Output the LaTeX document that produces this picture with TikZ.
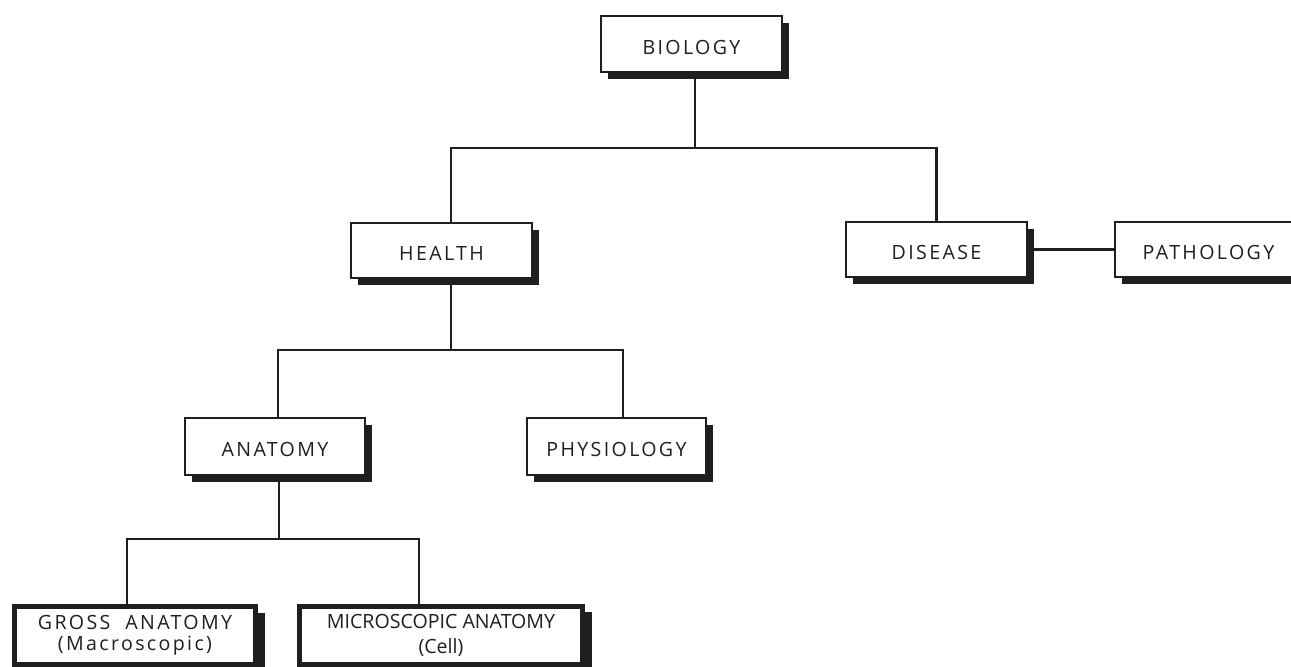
\documentclass[tikz,border=0pt]{standalone}
\usepackage{fontspec}
\setmainfont{Open Sans}
\newfontfamily\boxfont{Open Sans}[LetterSpace=12]
\newfontfamily\plainfont{Open Sans}
\usetikzlibrary{shadows}
\begin{document}
\begin{tikzpicture}[x=0.5pt,y=-0.5pt,
  basebox/.style={draw=black!88, fill=white, inner sep=0pt, text=black!88},
  box/.style={basebox, line width=1pt, font=\boxfont\fontsize{9.8}{11}\selectfont,
    text height=10pt, text depth=0pt,
    drop shadow={shadow xshift=3.5pt, shadow yshift=-3.5pt, opacity=1, fill=black!88}},
  bigbox/.style={basebox, line width=2.5pt, align=center,
    drop shadow={shadow xshift=4.5pt, shadow yshift=-3pt, opacity=1, fill=black!88}},
  conn/.style={draw=black!88, line width=1.2pt}]
\useasboundingbox (0,0) rectangle (1291,666);
\clip (0,0) rectangle (1291,666);

% junction coordinates
\coordinate (j1) at (695,148);
\coordinate (j2) at (451,350);
\coordinate (j3) at (279,539);

\node[box, minimum width=90.5pt, minimum height=28pt] (bio) at (691.5,44) {BIOLOGY};
\node[box, minimum width=90.5pt, minimum height=27.5pt] (health) at (441.5,250.5) {HEALTH};
\node[box, minimum width=90.5pt, minimum height=27.5pt] (disease) at (936.5,249.5) {DISEASE};
\node[box, minimum width=93.5pt, minimum height=27.5pt] (path) at (1208.5,249.5) {PATHOLOGY};
\node[box, minimum width=90pt, minimum height=28.5pt] (anatomy) at (275,446.5) {ANATOMY};
\node[box, minimum width=89.5pt, minimum height=28.5pt] (physio) at (616.5,446.5) {PHYSIOLOGY};
\node[bigbox, minimum width=120.5pt, minimum height=29pt,
  font=\boxfont\fontsize{9.8}{10.5}\selectfont] (gross) at (135,635.5)
  {GROSS\ \ ANATOMY\\(Macroscopic)};
\node[bigbox, minimum width=141.5pt, minimum height=29pt,
  font=\plainfont\fontsize{9.8}{12.5}\selectfont] (micro) at (441,635)
  {MICROSCOPIC ANATOMY\\(Cell)};

\draw[conn] (bio.south -| j1) -- (j1);
\draw[conn] (health.north -| j2) |- (j1) -| (disease.north);
\draw[conn] (disease.east) -- (path.west);
\draw[conn] (health.south -| j2) -- (j2);
\draw[conn] ([xshift=1.5pt]anatomy.north) |- (j2) -| ([xshift=3.25pt]physio.north);
\draw[conn] (anatomy.south -| j3) -- (j3);
\draw[conn] ([xshift=-4pt]gross.north) |- (j3) -| ([xshift=-11pt]micro.north);
\end{tikzpicture}
\end{document}
